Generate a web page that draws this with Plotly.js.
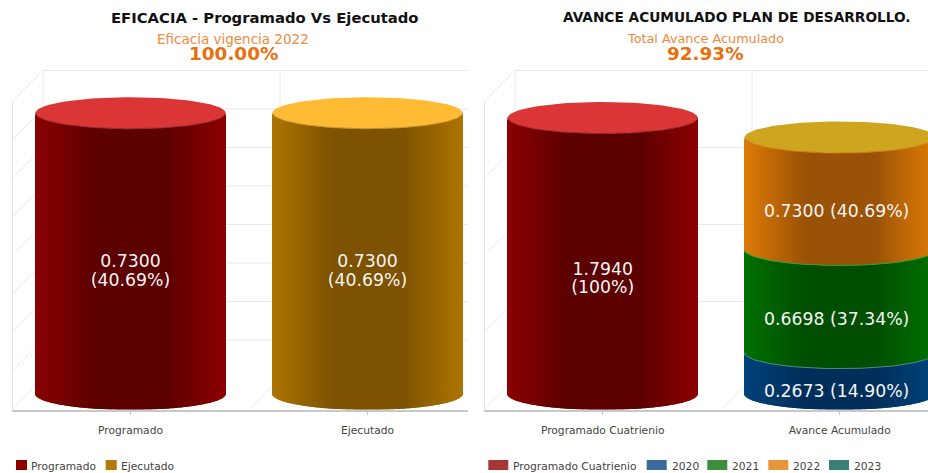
<!DOCTYPE html>
<html><head><meta charset="utf-8">
<script src="https://cdn.plot.ly/plotly-3.0.1.min.js"></script>
<style>html,body{margin:0;padding:0;background:#fff}#c{width:928px;height:473px}</style>
</head><body><div id="c"></div>
<script>
// ---- data ----
const effCategories = ['Programado', 'Ejecutado'];
const effValues = [0.7300, 0.7300];
const effLabels = ['0.7300<br>(40.69%)', '0.7300<br>(40.69%)'];
const advCategories = ['Programado Cuatrienio', 'Avance Acumulado'];
const advProgramado = [1.7940];
const advProgramadoLabels = ['1.7940<br>(100%)'];
const advYears = ['2020', '2021', '2022', '2023'];
const advYearValues = [0.2673, 0.6698, 0.7300, 0];
const advYearLabels = ['0.2673 (14.90%)', '0.6698 (37.34%)', '0.7300 (40.69%)', ''];
const effLegend = ['Programado', 'Ejecutado'];
const advLegend = ['Programado Cuatrienio', '2020', '2021', '2022', '2023'];

// ---- styles ----
const W = 928, H = 473;
const FONT = '"DejaVu Sans", Verdana, sans-serif';
const RED = {edge:[139,0,0], mid:[92,0,0], cap:'#DC3535', rim:'#96282e'};
const GOLD = {edge:[173,116,0], mid:[125,82,0], cap:'#FFBB33', rim:'#b98c2c'};
const BLUE = {edge:[0,66,122], mid:[0,46,90], rimTop:'#4d8a8a'};
const GREEN = {edge:[0,112,0], mid:[0,78,0], rimTop:'#2f9f3a'};
const ORANGE = {edge:[222,122,6], mid:[154,82,6], cap:'#CFA51F', rim:'#c77a10', rimTop:'#d98a20'};

const traces = [], shapes = [], annotations = [];

function panel(opts) {
  const {xa, ya, c0, xLeft, xRight, scale, nTicks} = opts;
  const fx = px => (px - c0) / 237;
  const fy = px => (394 - px) / scale;
  const HW = 95, RY = 15.8;
  const GRID = '#e8e8e8';
  const line = (x0, p0, x1, p1, color, width) => shapes.push({
    type:'line', xref:xa, yref:ya, layer:'below',
    x0:fx(x0), y0:fy(p0), x1:fx(x1), y1:fy(p1), line:{color, width:width||1}
  });
  const D = 31, frontBottom = 409.5, backBottom = 378.5;
  const gridPx = 308 / nTicks;
  for (let k = 0; k <= nTicks; k++) {
    const by = backBottom - k * gridPx;
    if (k > 0) line(xLeft + D, by, xRight, by, GRID);
    line(xLeft, by + D, xLeft + D, by, GRID);
  }
  line(xLeft, frontBottom, xLeft, frontBottom - 308, '#d8d8d8', 1.3);
  line(xLeft + D, backBottom, xLeft + D, backBottom - 308, GRID);
  line(xLeft + D + 237, backBottom, xLeft + D + 237, backBottom - 308, GRID);
  line(xLeft + 237, frontBottom, xLeft + D + 237, backBottom, GRID);

  function body(i, v0, v1, pal) {
    const xs = [], base = [], ys = [], cols = [], wid = [];
    const cpx = c0 + i * 237;
    for (let p = -HW; p < HW; p++) {
      const t = (p + HW + 0.5) / (2 * HW);
      const u = (p + 0.5) / HW;
      let s;
      if (t < 0.32) s = t / 0.32;
      else if (t < 0.70) s = 1;
      else if (t < 0.76) s = 1 - (t - 0.70) / 0.06 * 0.25;
      else s = 0.75 * (1 - (t - 0.76) / 0.24);
      const drop = RY * Math.sqrt(1 - u * u) / scale;
      xs.push(fx(cpx + p + 0.5));
      wid.push(1 / 237);
      base.push(v0 - drop);
      ys.push(v1 - v0);
      cols.push('rgb(' + pal.edge.map((e, n) => Math.round(e + (pal.mid[n] - e) * s)).join(',') + ')');
    }
    traces.push({type:'bar', xaxis:xa, yaxis:ya, x:xs, y:ys, base:base, width:wid,
      marker:{color:cols, line:{width:0}}, showlegend:false, hoverinfo:'skip'});
  }
  function frontRim(i, v, color) {
    const xs = [], ys = [], cpx = c0 + i * 237;
    for (let a = 0; a <= 60; a++) {
      const th = a / 60 * Math.PI;
      xs.push(fx(cpx + HW * Math.cos(th)));
      ys.push(v - RY * Math.sin(th) / scale);
    }
    traces.push({type:'scatter', mode:'lines', xaxis:xa, yaxis:ya, x:xs, y:ys,
      line:{color, width:1}, showlegend:false, hoverinfo:'skip'});
  }
  function ellipse(i, v, pal) {
    const xs = [], ys = [], cpx = c0 + i * 237;
    for (let a = 0; a <= 120; a++) {
      const th = a / 120 * 2 * Math.PI;
      xs.push(fx(cpx + HW * Math.cos(th)));
      ys.push(v + RY * Math.sin(th) / scale);
    }
    traces.push({type:'scatter', mode:'lines', xaxis:xa, yaxis:ya, x:xs, y:ys, fill:'toself',
      fillcolor:pal.cap, line:{color:pal.cap, width:0}, showlegend:false, hoverinfo:'skip'});
    frontRim(i, v, pal.rim);
  }
  function label(i, v, text, xShift) {
    const lines = text.split('<br>');
    const LH = 18.6;
    const mid = (lines.length - 1) / 2;
    lines.forEach((ln, n) => {
      traces.push({type:'scatter', mode:'text', xaxis:xa, yaxis:ya,
        x:[fx(c0 + i * 237 + (xShift || 0))], y:[v - (n - mid) * LH / scale],
        text:[ln], textposition:'middle center', textfont:{family:FONT, size:17.3, color:'#f5f5f5'},
        showlegend:false, hoverinfo:'skip', cliponaxis:false});
    });
  }
  return {fx, fy, body, ellipse, frontRim, label};
}

function axes(x0, x1, c0, cats, scale) {
  return {
    x:{domain:[x0 / W, x1 / W], range:[(x0 - c0) / 237, (x1 - c0) / 237], type:'linear',
       tickmode:'array', tickvals:[0, 1], ticktext:cats, ticks:'outside', ticklen:4, tickcolor:'#c8c8c8',
       tickfont:{family:FONT, size:10.7, color:'#444'}, ticklabelstandoff:6,
       showgrid:false, zeroline:false, showline:true, linecolor:'#c8c8c8', linewidth:1.5, fixedrange:true},
    y:{domain:[1 - 409.5 / H, 1 - 60 / H], range:[(394 - 409.5) / scale, (394 - 60) / scale], type:'linear',
       showticklabels:false, showgrid:false, zeroline:false, showline:false, ticks:'', fixedrange:true}
  };
}

// ---- left chart ----
const LS = 385, RS = 154;
const L = panel({xa:'x', ya:'y', c0:130.5, xLeft:12, xRight:468, scale:LS, nTicks:8});
const effPal = [RED, GOLD];
effValues.forEach((v, i) => {
  L.body(i, 0, v, effPal[i]);
  L.ellipse(i, v, effPal[i]);
  L.label(i, v / 2 - 19 / LS, effLabels[i], 0);
});

// ---- right chart ----
const R = panel({xa:'x2', ya:'y2', c0:602.7, xLeft:484, xRight:928, scale:RS, nTicks:4});
R.body(0, 0, advProgramado[0], RED);
R.ellipse(0, advProgramado[0], RED);
R.label(0, advProgramado[0] / 2 - 24 / RS, advProgramadoLabels[0], 0);
const stackPal = [BLUE, GREEN, ORANGE];
let acc = 0;
advYearValues.forEach((v, i) => {
  if (!v) return;
  R.body(1, acc, acc + v, stackPal[i]);
  acc += v;
});
acc = 0;
advYearValues.forEach((v, i) => {
  if (!v) return;
  if (i > 0) R.frontRim(1, acc, stackPal[i - 1].rimTop);
  R.label(1, acc + v / 2 - 19 / RS, advYearLabels[i], -3);
  acc += v;
});
R.ellipse(1, acc, ORANGE);

// ---- titles ----
function txt(x, y, text, size, color, bold, anchor) {
  annotations.push({xref:'paper', yref:'paper', x:x / W, y:1 - y / H, xanchor:anchor || 'center', yanchor:'middle',
    text:bold ? '<b>' + text + '</b>' : text, showarrow:false,
    font:{family:FONT, size, color}});
}
txt(264.5, 18, 'EFICACIA - Programado Vs Ejecutado', 14.8, '#111', true);
txt(233.5, 38.5, 'Eficacia vigencia 2022', 13.5, '#F08A3C', false);
txt(233.5, 53.5, '100.00%', 18.4, '#E8700F', true);
txt(736.5, 17, 'AVANCE ACUMULADO PLAN DE DESARROLLO.', 13.7, '#111', true);
txt(705.5, 38.5, 'Total Avance Acumulado', 12.8, '#F08A3C', false);
txt(705.5, 53.5, '92.93%', 18.4, '#E8700F', true);

// ---- legends ----
function legendItem(x, w, text, color, gap) {
  shapes.push({type:'rect', xref:'paper', yref:'paper', x0:x / W, x1:(x + w) / W,
    y0:1 - 470 / H, y1:1 - 460 / H, fillcolor:color, line:{width:0}});
  txt(x + w + gap, 466.5, text, 10.7, '#444', false, 'left');
}
const effLegendColors = ['#8B0000', '#B27A05'];
const effLegendX = [16, 105.7];
effLegend.forEach((n, i) => legendItem(effLegendX[i], 11, n, effLegendColors[i], 2));
const advLegendColors = ['#A4373A', '#3A6A9A', '#3B8E3B', '#E8963C', '#3B8078'];
const advLegendX = [488.3, 646.7, 707.3, 768.3, 829];
advLegend.forEach((n, i) => legendItem(advLegendX[i], 20, n, advLegendColors[i], 3));

const ax1 = axes(12, 468, 130.5, effCategories, LS);
const ax2 = axes(484, 928, 602.7, advCategories, RS);
Plotly.newPlot('c', traces, {
  width:W, height:H, margin:{l:0, r:0, t:0, b:0}, paper_bgcolor:'#fff', plot_bgcolor:'rgba(0,0,0,0)',
  barmode:'overlay', showlegend:false, font:{family:FONT},
  xaxis:ax1.x, yaxis:ax1.y, xaxis2:Object.assign(ax2.x, {anchor:'y2'}), yaxis2:Object.assign(ax2.y, {anchor:'x2'}),
  shapes, annotations
}, {displayModeBar:false, staticPlot:false});
</script></body></html>
